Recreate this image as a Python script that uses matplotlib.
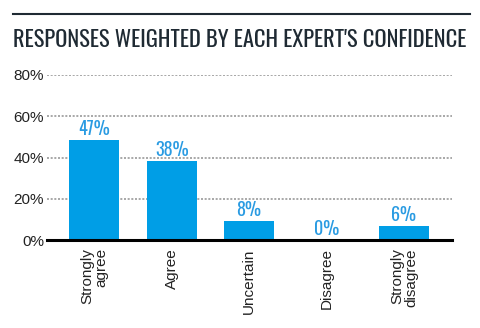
import matplotlib
matplotlib.use('Agg')
import matplotlib.pyplot as plt
import numpy as np

# data
categories = ['Strongly\nagree', 'Agree', 'Uncertain', 'Disagree', 'Strongly\ndisagree']
values = [48.5, 38.4, 9.0, 0.0, 6.6]
value_labels = ['47%', '38%', '8%', '0%', '6%']
yticks = [0, 20, 40, 60, 80]

bar_color = '#009ee6'
label_color = '#2a9be2'
dark = '#1f2a33'
cond = ['Oswald', 'Roboto Condensed', 'DejaVu Sans']
plain = ['Liberation Sans', 'DejaVu Sans']

fig = plt.figure(figsize=(4.8, 3.28), dpi=100)
ax = fig.add_axes([47/480, (328-240)/328, 405/480, (240-75)/328])

x = np.arange(len(categories))
ax.bar(x, values, width=0.65, color=bar_color, zorder=2)
for xi, v, lab in zip(x, values, value_labels):
    ax.text(xi, v + 1.0, lab, ha='center', va='bottom', color=label_color,
            fontsize=13, fontweight='semibold', family=cond)

ax.set_xlim(-0.61, 4.62)
ax.set_ylim(0, 80)
ax.set_yticks(yticks)
ax.set_yticklabels([f'{t}%' for t in yticks], fontsize=11, color='#222222', family=plain)
ax.set_xticks(x)
ax.set_xticklabels(categories, rotation=90, fontsize=11, color='#222222', family=plain,
                   va='top', ha='center', multialignment='right', linespacing=1.0)
ax.tick_params(axis='both', length=0)
ax.tick_params(axis='x', pad=6)
ax.tick_params(axis='y', pad=2)
ax.grid(axis='y', color='#999999', linestyle=(0, (1.2, 1.0)), linewidth=1.2, zorder=0)
for s in ['top', 'right', 'left']:
    ax.spines[s].set_visible(False)
ax.spines['bottom'].set_color('black')
ax.spines['bottom'].set_linewidth(2.2)
ax.spines['bottom'].set_zorder(3)

# header rule and title
fig.add_artist(plt.Line2D([13/480, 470/480], [1 - 14/328, 1 - 14/328],
                          color=dark, linewidth=1.5))
fig.text(13/480, 1 - 47/328, "RESPONSES WEIGHTED BY EACH EXPERT'S CONFIDENCE",
         fontsize=16.2, fontweight='bold', color=dark, family=cond,
         ha='left', va='baseline')

fig.savefig('out.png', dpi=100)
